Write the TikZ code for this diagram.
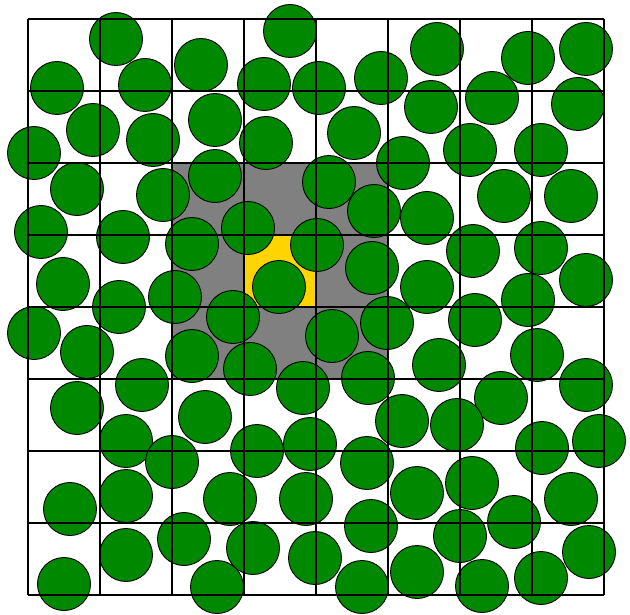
\documentclass[tikz,border=0pt]{standalone}
\usepackage{tikz}
\definecolor{graingreen}{RGB}{0,136,0}
\definecolor{homegold}{RGB}{255,212,0}
\tikzset{
  grain/.style={draw=black, fill=graingreen, line width=0.9pt},
  cellgrid/.style={draw=black, line width=1.2pt},
  nbhood/.style={fill=gray},
  homecell/.style={fill=homegold},
}

\begin{document}
\begin{tikzpicture}[x=1pt,y=-1pt]
  \useasboundingbox (0,0) rectangle (630,615);
  % neighbour cells and the home cell
  \fill[nbhood]   (172,163) rectangle (388,379);
  \fill[homecell] (244,235) rectangle (316,307);
  % particles
  \foreach \gx/\gy in {
      116/39, 290/31, 437/49, 528/58, 586/49,
      57/88, 145/85, 201/65, 264/84, 319/88, 381/78, 431/107, 492/98, 578/104,
      93/130, 153/140, 215/120, 266/143, 354/133, 34/153, 470/150, 541/150, 403/163,
      77/189, 163/195, 215/176, 329/182, 374/211, 427/218, 504/196, 571/196,
      41/232, 123/237, 192/244, 248/228, 317/245, 473/251, 541/248,
      63/284, 372/268, 279/287, 586/280, 427/287, 175/297, 119/307, 528/300,
      34/333, 233/317, 387/323, 475/320, 87/352, 332/336, 192/356, 250/369,
      537/355, 439/365, 368/378, 142/385, 303/388, 586/385,
      77/408, 501/398, 205/417, 402/421, 457/425, 126/441, 599/441,
      257/451, 310/444, 542/448, 172/462, 367/463, 472/483,
      70/509, 126/496, 230/499, 306/499, 417/493, 571/499, 514/522,
      184/539, 371/526, 460/536, 126/555, 253/548, 315/558, 589/552,
      64/584, 217/587, 362/587, 417/572, 482/586, 541/578}
    \draw[grain] (\gx,\gy) circle (26.5);
  % cell lists
  \foreach \k in {0,...,8} {
    \draw[cellgrid] (28+72*\k,19) -- (28+72*\k,595);
    \draw[cellgrid] (28,19+72*\k) -- (604,19+72*\k);
  }
\end{tikzpicture}
\end{document}
